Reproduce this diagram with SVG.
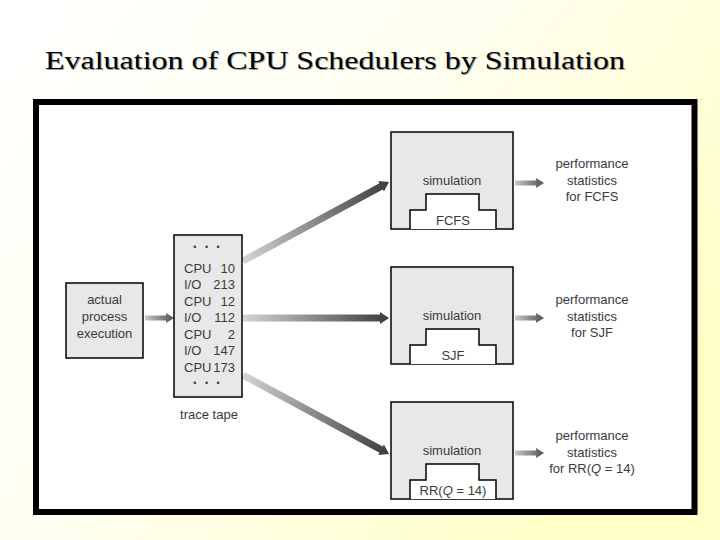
<svg xmlns="http://www.w3.org/2000/svg" width="720" height="540" viewBox="0 0 720 540">
<defs>
<linearGradient id="bg" x1="0" y1="0" x2="1" y2="0.6">
<stop offset="0" stop-color="#ffffff"/>
<stop offset="0.5" stop-color="#fffff0"/>
<stop offset="1" stop-color="#ffffc8"/>
</linearGradient>
<linearGradient id="ag" x1="0" y1="0" x2="1" y2="0">
<stop offset="0" stop-color="#d4d4d4"/>
<stop offset="1" stop-color="#3c3c3c"/>
</linearGradient>
<linearGradient id="sg" x1="0" y1="0" x2="1" y2="0">
<stop offset="0" stop-color="#c8c8c8"/>
<stop offset="1" stop-color="#505050"/>
</linearGradient>
<path id="bigArrow" d="M0,-3.5 H157 V-6 L166,0 L157,6 V3.5 H0 Z"/>
<path id="smallArrow" d="M0,-2.5 H21 V-5 L29,0 L21,5 V2.5 H0 Z"/>
</defs>
<style>
.box{fill:#e8e8e8;stroke:#000;stroke-width:1.5}
.step{fill:#fff;stroke:#000;stroke-width:1.5}
.t{font-family:"Liberation Sans",Arial,sans-serif;font-size:13px;fill:#3a3a3a}
.c{text-anchor:middle}
.r{text-anchor:end}
.dots{font-family:"Liberation Sans",Arial,sans-serif;font-size:9px;fill:#3a3a3a;text-anchor:middle}
.title{font-family:"Liberation Serif","Times New Roman",serif;font-size:26px}
</style>
<rect x="0" y="0" width="720" height="540" fill="url(#bg)"/>
<text class="title" x="46" y="70" fill="#a0a0a0" textLength="580" lengthAdjust="spacingAndGlyphs">Evaluation of CPU Schedulers by Simulation</text>
<text class="title" x="45" y="69" fill="#000" textLength="580" lengthAdjust="spacingAndGlyphs">Evaluation of CPU Schedulers by Simulation</text>
<rect x="36" y="102" width="658.5" height="410" fill="#fff" stroke="#000" stroke-width="6"/>

<g id="connectors">
<use href="#smallArrow" transform="translate(145,318)" fill="url(#sg)"/>
<use href="#bigArrow" transform="translate(243,261) rotate(-28.4)" fill="url(#ag)"/>
<path d="M243,314.5 H380 V312 L389,318 L380,324 V321.5 H243 Z" fill="url(#ag)"/>
<use href="#bigArrow" transform="translate(243,375) rotate(28.4)" fill="url(#ag)"/>
<use href="#smallArrow" transform="translate(515,183)" fill="url(#sg)"/>
<use href="#smallArrow" transform="translate(515,318)" fill="url(#sg)"/>
<use href="#smallArrow" transform="translate(515,453)" fill="url(#sg)"/>
</g>

<g id="actual">
<rect class="box" x="66" y="283" width="77" height="75"/>
<text class="t c" x="104.5" y="304">actual</text>
<text class="t c" x="104.5" y="321">process</text>
<text class="t c" x="104.5" y="338">execution</text>
</g>

<g id="tape">
<rect class="box" x="174" y="235" width="68" height="162"/>
<text class="dots" x="208" y="250" letter-spacing="3">• • •</text>
<text class="t" x="184" y="273">CPU</text><text class="t r" x="235" y="273">10</text>
<text class="t" x="184" y="289">I/O</text><text class="t r" x="235" y="289">213</text>
<text class="t" x="184" y="306">CPU</text><text class="t r" x="235" y="306">12</text>
<text class="t" x="184" y="322">I/O</text><text class="t r" x="235" y="322">112</text>
<text class="t" x="184" y="339">CPU</text><text class="t r" x="235" y="339">2</text>
<text class="t" x="184" y="355">I/O</text><text class="t r" x="235" y="355">147</text>
<text class="t" x="184" y="372">CPU</text><text class="t r" x="235" y="372">173</text>
<text class="dots" x="208" y="386" letter-spacing="3">• • •</text>
<text class="t c" x="209" y="419">trace tape</text>
</g>

<g id="sim-fcfs">
<rect class="box" x="391" y="132" width="122" height="97"/>
<text class="t c" x="452" y="185">simulation</text>
<path class="step" d="M410,229 V210 H426 V194 H479 V210 H496 V229"/>
<text class="t c" x="453" y="225">FCFS</text>
</g>
<g id="sim-sjf">
<rect class="box" x="391" y="267" width="122" height="97"/>
<text class="t c" x="452" y="320">simulation</text>
<path class="step" d="M410,364 V345 H426 V329 H479 V345 H496 V364"/>
<text class="t c" x="453" y="360">SJF</text>
</g>
<g id="sim-rr">
<rect class="box" x="391" y="402" width="122" height="97"/>
<text class="t c" x="452" y="455">simulation</text>
<path class="step" d="M410,499 V480 H426 V464 H479 V480 H496 V499"/>
<text class="t c" x="453" y="495">RR(<tspan font-style="italic">Q</tspan> = 14)</text>
</g>

<g id="stats-fcfs">
<text class="t c" x="592" y="168">performance</text>
<text class="t c" x="592" y="185">statistics</text>
<text class="t c" x="592" y="201">for FCFS</text>
</g>
<g id="stats-sjf">
<text class="t c" x="592" y="304">performance</text>
<text class="t c" x="592" y="321">statistics</text>
<text class="t c" x="592" y="337">for SJF</text>
</g>
<g id="stats-rr">
<text class="t c" x="592" y="440">performance</text>
<text class="t c" x="592" y="457">statistics</text>
<text class="t c" x="592" y="473">for RR(<tspan font-style="italic">Q</tspan> = 14)</text>
</g>
</svg>
